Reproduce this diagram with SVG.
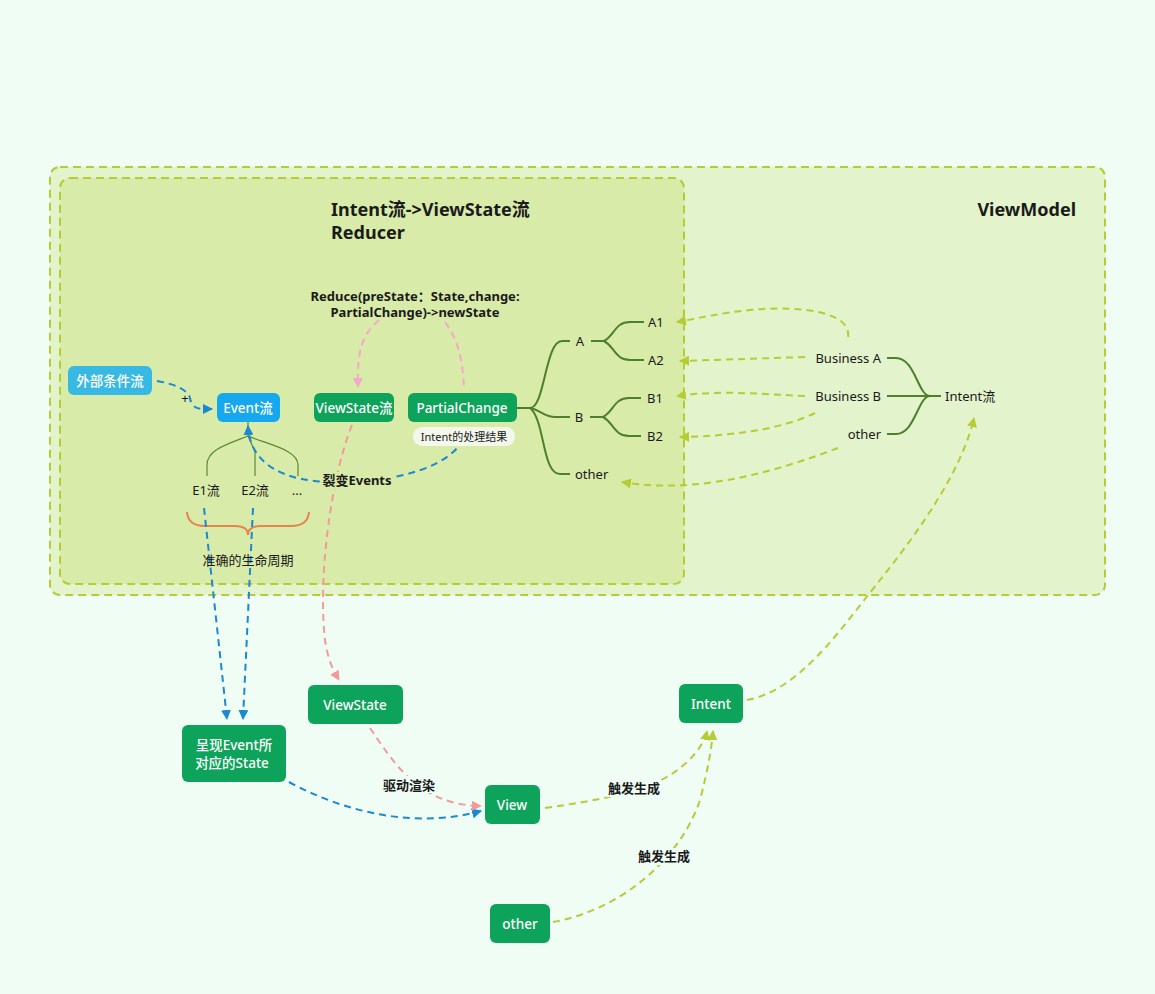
<svg xmlns="http://www.w3.org/2000/svg" width="1155" height="994" viewBox="0 0 1155 994">
<defs>
<style>
text{font-family:"Noto Sans","Noto Sans CJK SC",sans-serif;fill:#1a1a1a}
.nt{fill:#fff;font-size:13.5px;font-weight:500;text-anchor:middle}
.t{font-size:13px}
.b{font-weight:bold}
.title{font-size:18px;font-weight:bold}
.green{fill:#0ea35a}
.tree{fill:none;stroke:#4e7f2c;stroke-width:2}
.etree{fill:none;stroke:#5b8a32;stroke-width:1.2}
.yg{fill:none;stroke:#b6cc35;stroke-width:2;stroke-dasharray:7 5}
.bl{fill:none;stroke:#1a89d2;stroke-width:2;stroke-dasharray:7 5}
.pk{fill:none;stroke:#f5a9c8;stroke-width:2;stroke-dasharray:7 5}
.sa{fill:none;stroke:#f39a9a;stroke-width:2;stroke-dasharray:7 5}
</style>
<marker id="mYg" viewBox="0 0 10 10" refX="9" refY="5" markerWidth="5" markerHeight="5" orient="auto"><path d="M0,0L10,5L0,10z" fill="#b6cc35"/></marker>
<marker id="mBl" viewBox="0 0 10 10" refX="9" refY="5" markerWidth="5" markerHeight="5" orient="auto"><path d="M0,0L10,5L0,10z" fill="#1a89d2"/></marker>
<marker id="mPk" viewBox="0 0 10 10" refX="9" refY="5" markerWidth="5" markerHeight="5" orient="auto"><path d="M0,0L10,5L0,10z" fill="#f5a9c8"/></marker>
<marker id="mSa" viewBox="0 0 10 10" refX="9" refY="5" markerWidth="5" markerHeight="5" orient="auto"><path d="M0,0L10,5L0,10z" fill="#f39a9a"/></marker>
</defs>
<rect width="1155" height="994" fill="#effdf5"/>

<g id="viewmodel">
<rect x="50" y="167" width="1055" height="428" rx="10" fill="#e3f3cb" stroke="#b6cc35" stroke-width="2" stroke-dasharray="8 5"/>
<text x="1076" y="216" class="title" text-anchor="end">ViewModel</text>
</g>
<g id="reducer">
<rect x="60" y="178" width="624" height="406" rx="10" fill="#d8eba9" stroke="#b6cc35" stroke-width="2" stroke-dasharray="8 5"/>
<text x="331" y="216" class="title">Intent流-&gt;ViewState流</text>
<text x="331" y="239" class="title">Reducer</text>
<text x="415" y="301" class="t b" text-anchor="middle">Reduce(preState：State,change:</text>
<text x="415" y="317" class="t b" text-anchor="middle">PartialChange)-&gt;newState</text>
</g>

<g id="connectors">
<path class="tree" d="M517,408 L530,408 C545,408 545,341 562,341 L570,341"/>
<path class="tree" d="M530,408 C540,410 545,417 555,417 L570,417"/>
<path class="tree" d="M530,408 C545,420 542,474 560,474 L570,474"/>
<path class="tree" d="M591,341 L604,341 C615,335 615,322 630,322 L644,322"/>
<path class="tree" d="M604,341 C615,347 615,360 630,360 L644,360"/>
<path class="tree" d="M590,417 L603,417 C614,411 614,398 629,398 L641,398"/>
<path class="tree" d="M603,417 C614,423 614,436 629,436 L641,436"/>
<path class="tree" d="M887,358 L896,358 C915,358 918,396 930,396 L941,396" stroke="#2f6a2c"/>
<path class="tree" d="M887,396 L930,396" stroke="#2f6a2c"/>
<path class="tree" d="M887,434 L896,434 C915,434 918,396 930,396" stroke="#2f6a2c"/>
<path class="etree" d="M248,422 L248,436 C225,445 207,450 207,465 L207,476"/>
<path class="etree" d="M248,436 L255,452 L255,476"/>
<path class="etree" d="M248,436 C270,445 298,450 298,465 L298,476"/>
<path d="M187,512 Q188,526 205,526 L235,526 Q248,526 248,535 Q248,526 261,526 L291,526 Q308,526 309,512" fill="none" stroke="#e8834c" stroke-width="2"/>
<path class="bl" d="M157,381 C175,384 188,390 190,398 C192,410 200,409 212,409" marker-end="url(#mBl)"/>
<path class="bl" d="M468,428 C458,470 390,482 335,482 C285,482 250,465 248,426" marker-end="url(#mBl)"/>
<path class="bl" d="M204,508 L227,719" marker-end="url(#mBl)"/>
<path class="bl" d="M253,508 L243,719" marker-end="url(#mBl)"/>
<path class="bl" d="M289,782 C350,815 420,828 481,811" marker-end="url(#mBl)"/>
<path class="pk" d="M379,320 C362,335 357,350 358,387" marker-end="url(#mPk)"/>
<path class="pk" d="M445,322 C458,340 463,360 464,390"/>
<path class="sa" d="M352,425 C330,480 318,580 325,640 C328,660 333,670 339,680" marker-end="url(#mSa)"/>
<path class="sa" d="M370,728 C395,765 420,805 481,806" marker-end="url(#mSa)"/>
<path class="yg" d="M848,337 C852,312 800,305 750,310 C720,313 700,318 677,322" marker-end="url(#mYg)"/>
<path class="yg" d="M805,357 L680,361" marker-end="url(#mYg)"/>
<path class="yg" d="M805,396 C760,394 720,390 677,396" marker-end="url(#mYg)"/>
<path class="yg" d="M815,413 C780,430 730,436 680,437" marker-end="url(#mYg)"/>
<path class="yg" d="M838,448 C780,470 700,495 622,482" marker-end="url(#mYg)"/>
<path class="yg" d="M747,700 C800,690 840,630 880,580 C920,530 962,470 974,418" marker-end="url(#mYg)"/>
<path class="yg" d="M545,808 C600,800 640,792 665,778 C690,764 704,745 707,731" marker-end="url(#mYg)"/>
<path class="yg" d="M553,922 C620,910 680,860 700,800 C708,770 712,745 713,731" marker-end="url(#mYg)"/>
<rect x="322" y="472" width="70" height="17" fill="#d8eba9"/>
<text x="357" y="485" class="t b" text-anchor="middle" font-size="12">裂变Events</text>
<text x="185" y="403" class="t" text-anchor="middle">+</text>
<rect x="381" y="776" width="56" height="17" fill="#effdf5"/>
<text x="409" y="790" class="t b" text-anchor="middle" font-size="12">驱动渲染</text>
<rect x="606" y="780" width="56" height="17" fill="#effdf5"/>
<text x="634" y="793" class="t b" text-anchor="middle" font-size="12">触发生成</text>
<rect x="636" y="848" width="56" height="17" fill="#effdf5"/>
<text x="664" y="861" class="t b" text-anchor="middle" font-size="12">触发生成</text>
</g>

<g id="n-external"><rect x="68" y="366" width="84" height="29" rx="6" fill="#38b9e3"/><text x="110" y="386" class="nt">外部条件流</text></g>
<g id="n-event"><rect x="217" y="393" width="63" height="29" rx="6" fill="#15a8ee"/><text x="248" y="413" class="nt">Event流</text></g>
<g id="n-viewstateflow"><rect x="314" y="393" width="80" height="29" rx="6" class="green"/><text x="354" y="413" class="nt">ViewState流</text></g>
<g id="n-partialchange"><rect x="408" y="393" width="109" height="29" rx="6" class="green"/><text x="462" y="413" class="nt">PartialChange</text></g>
<g id="n-result"><rect x="413" y="427" width="102" height="19" rx="9" fill="#f3f7ec"/><text x="464" y="441" font-size="11" text-anchor="middle">Intent的处理结果</text></g>
<g id="n-e1"><text x="206" y="495" class="t" text-anchor="middle">E1流</text></g>
<g id="n-e2"><text x="255" y="495" class="t" text-anchor="middle">E2流</text></g>
<g id="n-more"><text x="297" y="495" class="t" text-anchor="middle">...</text></g>
<g id="n-lifecycle"><text x="248" y="565" class="t" text-anchor="middle">准确的生命周期</text></g>
<g id="n-a"><text x="580" y="346" class="t" text-anchor="middle">A</text></g>
<g id="n-a1"><text x="648" y="327" class="t">A1</text></g>
<g id="n-a2"><text x="648" y="365" class="t">A2</text></g>
<g id="n-b"><text x="579" y="422" class="t" text-anchor="middle">B</text></g>
<g id="n-b1"><text x="647" y="403" class="t">B1</text></g>
<g id="n-b2"><text x="647" y="441" class="t">B2</text></g>
<g id="n-other1"><text x="575" y="479" class="t">other</text></g>
<g id="n-busa"><text x="881" y="363" class="t" text-anchor="end">Business A</text></g>
<g id="n-busb"><text x="881" y="401" class="t" text-anchor="end">Business B</text></g>
<g id="n-other2"><text x="881" y="439" class="t" text-anchor="end">other</text></g>
<g id="n-intentflow"><text x="945" y="401" class="t">Intent流</text></g>
<g id="n-viewstate"><rect x="308" y="685" width="95" height="39" rx="6" class="green"/><text x="355" y="710" class="nt">ViewState</text></g>
<g id="n-state"><rect x="182" y="725" width="104" height="57" rx="6" class="green"/><text x="234" y="750" class="nt">呈现Event所</text><text x="232" y="768" class="nt">对应的State</text></g>
<g id="n-view"><rect x="485" y="785" width="55" height="39" rx="6" class="green"/><text x="512" y="810" class="nt">View</text></g>
<g id="n-intent"><rect x="679" y="684" width="64" height="39" rx="6" class="green"/><text x="711" y="709" class="nt">Intent</text></g>
<g id="n-other3"><rect x="490" y="904" width="60" height="39" rx="6" class="green"/><text x="520" y="929" class="nt">other</text></g>
</svg>
